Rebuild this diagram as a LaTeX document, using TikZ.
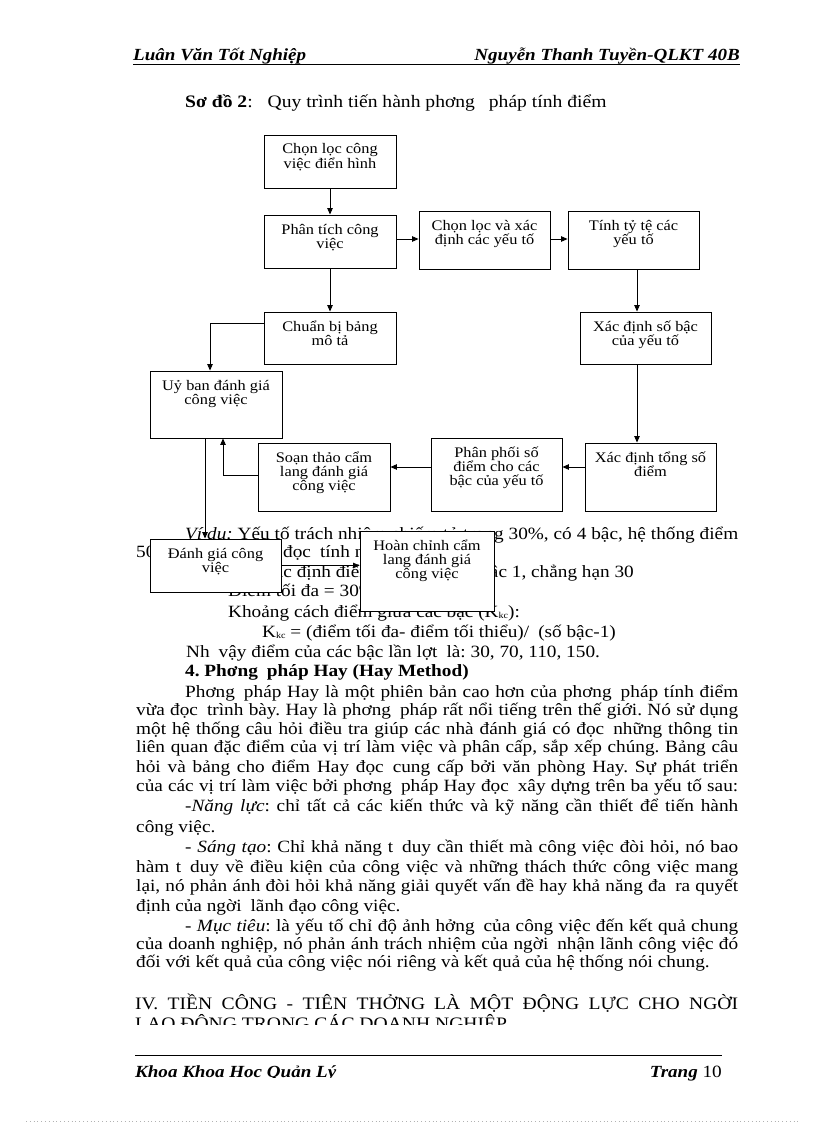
\documentclass[tikz,border=0pt]{standalone}
\usepackage{fontspec}
\setmainfont{Liberation Serif}[FakeStretch=1.12]
\usetikzlibrary{arrows.meta,calc}
\frenchspacing

\newcommand\gap{\hspace{9pt}}
\newcommand\boxfont{\fontsize{14.6}{14.2}\selectfont}
\newcommand\bodyfont{\fontsize{17.2}{18.5}\selectfont}
\newcommand\hdrfont{\fontsize{17}{20}\selectfont\bfseries\itshape}
\newcommand\kc{\raisebox{-1.5pt}{\fontsize{9}{9}\selectfont kc}}
% box text: width, height, lines
\newcommand\bx[3]{\parbox[t][#2pt][t]{#1pt}{\centering\rule{0pt}{19pt}#3}}

\begin{document}
\begin{tikzpicture}[x=1pt,y=-1pt,
  stepbox/.style={draw, fill=white, line width=0.9pt, inner sep=0pt, font=\boxfont},
  ar/.style={-{Triangle[length=6.5pt,width=5.5pt]}, line width=0.9pt},
  body/.style={inner sep=0pt, anchor=base west, font=\bodyfont},
  hdr/.style={inner sep=0pt, anchor=base west, font=\hdrfont},
]
\useasboundingbox[fill=white] (0,0) rectangle (816,1123);

% header
\node[hdr] (hl) at (133,61) {Luân Văn Tốt Nghiệp};
\node[hdr, anchor=base east] (hr) at (740,61) {Nguyễn Thanh Tuyền-QLKT 40B};
\draw[line width=1pt] (133,65) -- (740,65);

\node[body, font=\fontsize{17.5}{20}\selectfont] (ttl) at (185,108)
  {\textbf{Sơ đồ 2}:\hspace{10pt} Quy trình tiến hành phơng\hspace{9pt} pháp tính điểm};

% text under the chart
\node[body] (vd1) at (185,539) {\makebox[553pt][s]{\underline{\textit{Ví dụ:}} Yếu tố trách nhiệm chiếm tỷ trọng 30\%, có 4 bậc, hệ thống điểm}};
\node[body] (vd2) at (136,557) {500 điểm, mỗi bậc};
\node[body] (vd2r) at (283,557) {đọc\gap tính nh\gap sau:};
\node[body, anchor=base east] (vd3) at (634,577) {- Xác định điểm tối thiểu cho bậc 1, chẳng hạn 30};
\node[body] (vd4) at (228,596) {Điểm tối đa = 30\% × 500 = 150};
\node[body] (vd5) at (228,617) {Khoảng cách điểm giữa các bậc (K\kc):};
\node[body] (vd6) at (262,637) {K\kc{} = (điểm tối đa- điểm tối thiểu)/\gap(số bậc-1)};
\node[body] (vd7) at (186,657) {Nh\gap vậy điểm của các bậc lần lợt\gap là: 30, 70, 110, 150.};
\node[body, font=\bodyfont\bfseries] (h4) at (185,676) {4. Phơng\gap pháp Hay (Hay Method)};

\node[body] (p1a) at (185,697) {\makebox[553pt][s]{Phơng\gap pháp Hay là một phiên bản cao hơn của phơng\gap pháp tính điểm}};
\node[body] (p1b) at (136,715) {\makebox[602pt][s]{vừa đọc\gap trình bày. Hay là phơng\gap pháp rất nổi tiếng trên thế giới. Nó sử dụng}};
\node[body] (p1c) at (136,734) {\makebox[602pt][s]{một hệ thống câu hỏi điều tra giúp các nhà đánh giá có đọc\gap những thông tin}};
\node[body] (p1d) at (136,752) {\makebox[602pt][s]{liên quan đặc điểm của vị trí làm việc và phân cấp, sắp xếp chúng. Bảng câu}};
\node[body] (p1e) at (136,772) {\makebox[602pt][s]{hỏi và bảng cho điểm Hay đọc\gap cung cấp bởi văn phòng Hay. Sự phát triển}};
\node[body] (p1f) at (136,791) {\makebox[602pt][s]{của các vị trí làm việc bởi phơng\gap pháp Hay đọc\gap xây dựng trên ba yếu tố sau:}};

\node[body] (p2a) at (185,811) {\makebox[553pt][s]{-\textit{Năng lực}: chỉ tất cả các kiến thức và kỹ năng cần thiết để tiến hành}};
\node[body] (p2b) at (136,832) {công việc.};

\node[body] (p3a) at (185,852) {\makebox[553pt][s]{- \textit{Sáng tạo}: Chỉ khả năng t\gap duy cần thiết mà công việc đòi hỏi, nó bao}};
\node[body] (p3b) at (136,872) {\makebox[602pt][s]{hàm t\gap duy về điều kiện của công việc và những thách thức công việc mang}};
\node[body] (p3c) at (136,891) {\makebox[602pt][s]{lại, nó phản ánh đòi hỏi khả năng giải quyết vấn đề hay khả năng đa\gap ra quyết}};
\node[body] (p3d) at (136,911) {định của ngời\gap lãnh đạo công việc.};

\node[body] (p4a) at (185,931) {\makebox[553pt][s]{- \textit{Mục tiêu}: là yếu tố chỉ độ ảnh hởng\gap của công việc đến kết quả chung}};
\node[body] (p4b) at (136,949) {\makebox[602pt][s]{của doanh nghiệp, nó phản ánh trách nhiệm của ngời\gap nhận lãnh công việc đó}};
\node[body] (p4c) at (136,967) {đối với kết quả của công việc nói riêng và kết quả của hệ thống nói chung.};

\node[body, font=\fontsize{17.5}{19}\selectfont] (s4a) at (135,1009) {\makebox[603pt][s]{IV. TIỀN CÔNG - TIÊN THỞNG\gap LÀ MỘT ĐỘNG LỰC CHO NGỜI}};
\begin{scope}
  \clip (120,1010) rectangle (760,1024);
  \node[body, font=\fontsize{17.5}{19}\selectfont] (s4b) at (135,1029) {LAO ĐỘNG TRONG CÁC DOANH NGHIỆP};
\end{scope}

% chart
\node[stepbox] (chon)   at (330,161.5) {\bx{132}{53}{Chọn lọc công\\việc điển hình}};
\node[stepbox] (phan)   at (330,241.5) {\bx{132}{53}{Phân tích công\\việc}};
\node[stepbox] (xac)    at (484.5,240) {\bx{131}{58}{Chọn lọc và xác\\định các yếu tố}};
\node[stepbox] (tyle)   at (633.5,240) {\bx{131}{58}{Tính tỷ tệ các\\yếu tố}};
\node[stepbox] (mota)   at (330,338)   {\bx{132}{52}{Chuẩn bị bảng\\mô tả}};
\node[stepbox] (sobac)  at (645.5,338) {\bx{131}{52}{Xác định số bậc\\của yếu tố}};
\node[stepbox] (uyban)  at (216,404.5) {\bx{132}{67}{Uỷ ban đánh giá\\công việc}};
\node[stepbox] (soan)   at (324,477)   {\bx{132}{68}{Soạn thảo cẩm\\lang đánh giá\\công việc}};
\node[stepbox] (phoi)   at (496.5,474.5) {\bx{131}{73}{Phân phối số\\điểm cho các\\bậc của yếu tố}};
\node[stepbox] (tong)   at (650.5,477) {\bx{131}{68}{Xác định tổng số\\điểm}};
\node[stepbox] (danh)   at (215.5,565.5) {\bx{131}{53}{Đánh giá công\\việc}};
\node[stepbox] (hoan)   at (427,571)   {\bx{134}{80}{Hoàn chỉnh cẩm\\lang đánh giá\\công việc}};

\draw[ar] (chon) -- (phan);
\draw[ar] ([yshift=2.5pt]phan.east) -- ([yshift=2.5pt]phan.east -| xac.west);
\draw[ar] ([yshift=1pt]xac.east) -- ([yshift=1pt]xac.east -| tyle.west);
\draw[ar] (phan) -- (mota);
\draw[ar] ([xshift=3.5pt]tyle.south) -- ([xshift=3.5pt]tyle.south |- sobac.north);
\draw[ar] ([xshift=-8.5pt]sobac.south) -- ([xshift=-8.5pt]sobac.south |- tong.north);
\draw[ar] ([yshift=10pt]tong.west) -- ([yshift=10pt]tong.west -| phoi.east);
\draw[ar] ([yshift=7.5pt]phoi.west) -- ([yshift=7.5pt]phoi.west -| soan.east);
\draw[ar] ([yshift=15pt]mota.west) -| ([xshift=-6pt]uyban.north);
\draw[ar] ([yshift=2pt]soan.west) -| ([xshift=7pt]uyban.south);
\draw[ar] ([xshift=-11pt]uyban.south) -- ([xshift=-11pt]uyban.south |- danh.north);
\draw[ar] (danh.east) -- (danh.east -| hoan.west);

% footer
\draw[line width=0.8pt] (135,1055) -- (722,1055);
\begin{scope}
  \clip (120,1058) rectangle (640,1077);
  \node[hdr] (fl) at (135,1077) {Khoa Khoa Học Quản Lý};
\end{scope}
\node[hdr, anchor=base east] (fr) at (722,1077) {Trang {\normalfont\bodyfont 10}};
\draw[gray!60, line width=0.6pt, dash pattern=on 0.8pt off 3pt] (26,1121) -- (800,1121);
\end{tikzpicture}
\end{document}
